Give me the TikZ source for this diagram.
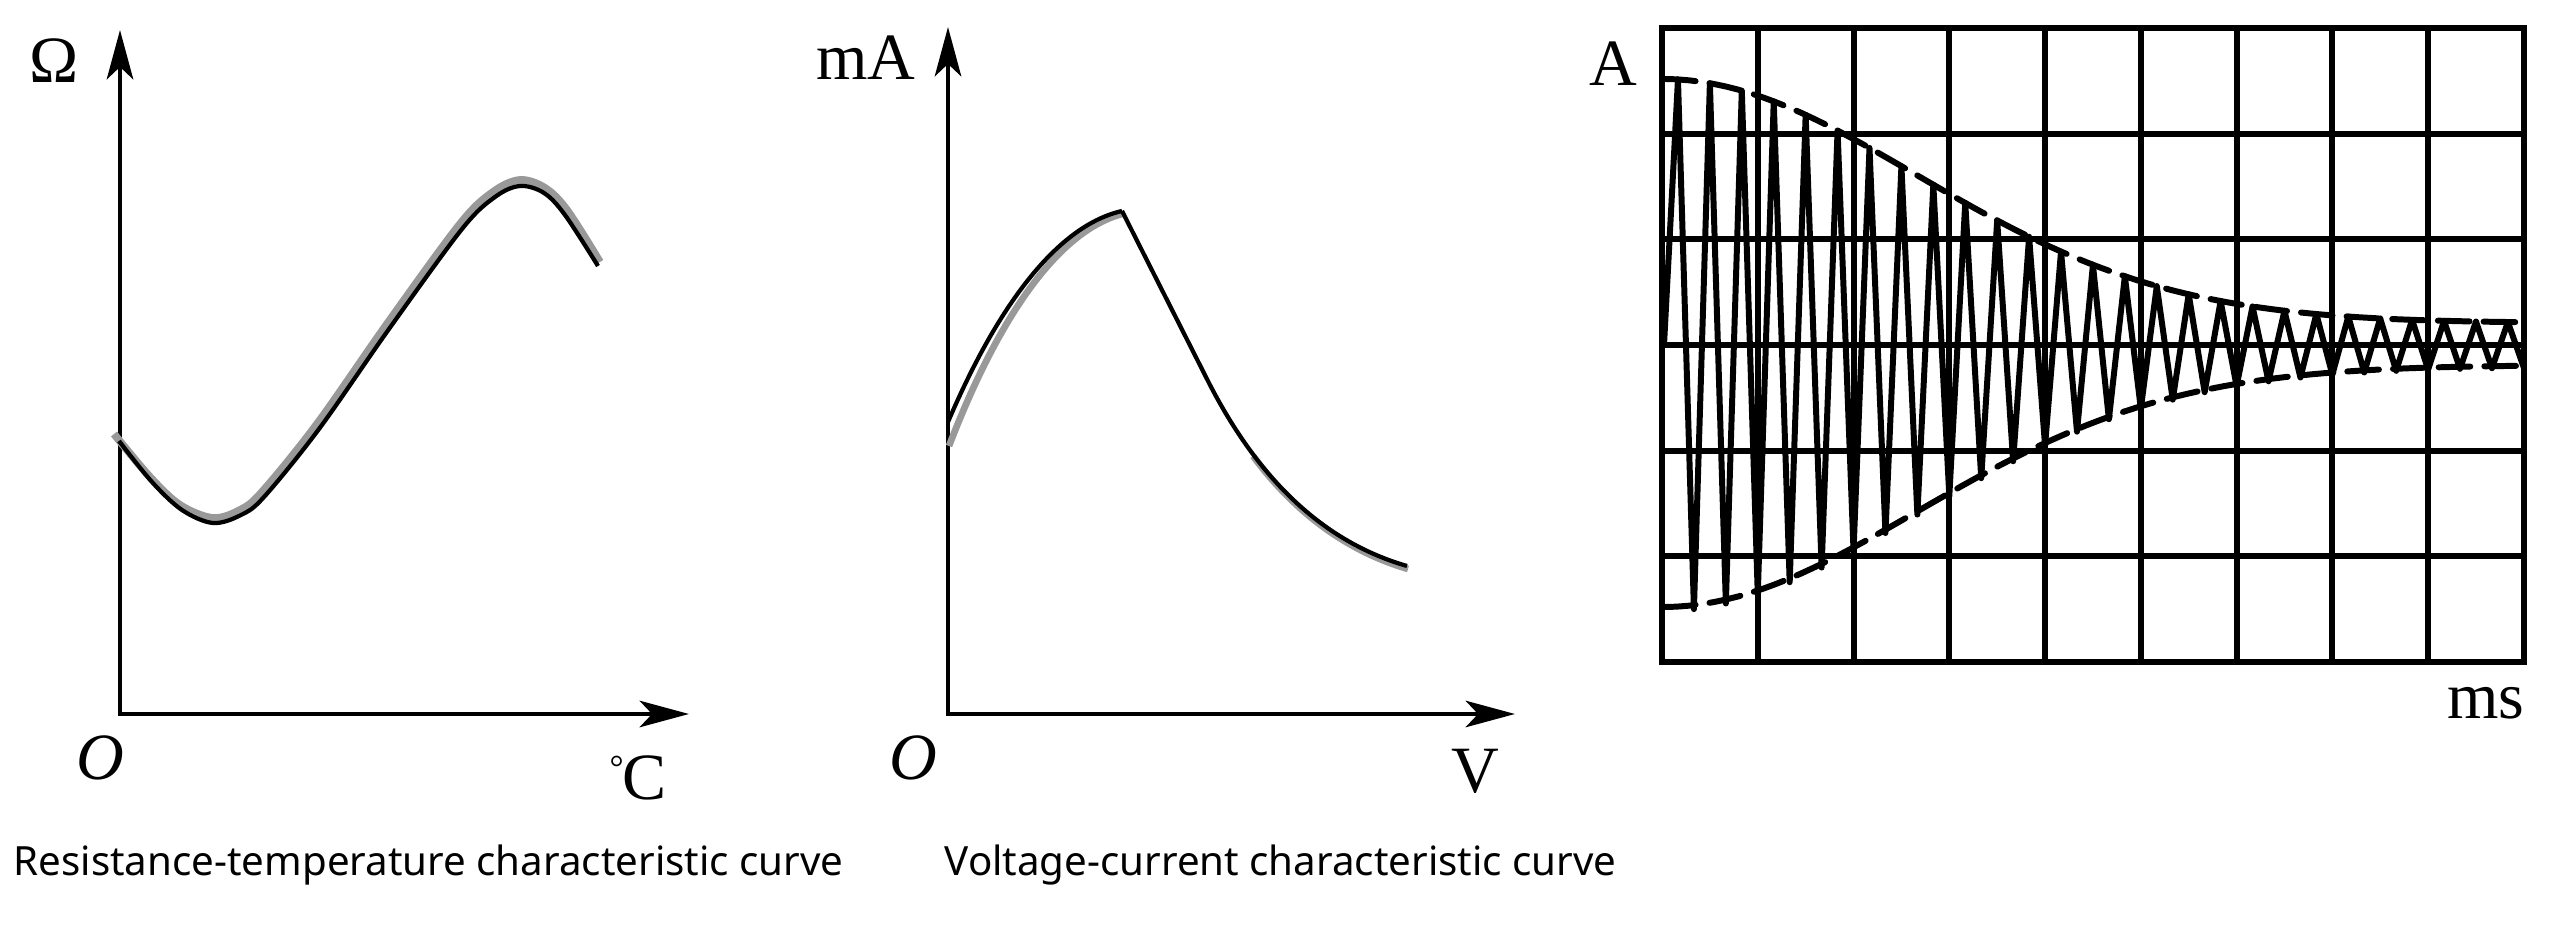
\documentclass[tikz,border=0pt]{standalone}
\usepackage{fontspec}
\setmainfont{Liberation Serif}
\newfontfamily\capfont{Noto Sans}
\usetikzlibrary{arrows.meta}

\tikzset{
	axisline/.style={draw=black,line width=1.4pt,line cap=rect},
	ribbon/.style={draw=black!40,line width=2.2pt},
	curveline/.style={draw=black,line width=1.2pt},
	gridline/.style={draw=black,line width=1.7pt},
	signal/.style={draw=black,line width=1.7pt,line join=round},
	envelope/.style={draw=black,line width=1.7pt,dash pattern=on 9pt off 4pt,line cap=round},
	caption/.style={font=\capfont\fontsize{11.45}{13}\selectfont,inner sep=0pt,anchor=base west}
}

\begin{document}
\begin{tikzpicture}[x=0.01cm,y=-0.01cm]
	\useasboundingbox (0,0) rectangle (2560,952);
	% axes end points
	\coordinate (O1) at (120,714);
	\coordinate (Y1) at (120,30);
	\coordinate (X1) at (689,714);
	\coordinate (O2) at (948,714);
	\coordinate (Y2) at (948,27);
	\coordinate (X2) at (1515,714);
	\begin{scope}[>={Stealth[length=14pt,width=7.5pt,inset=3.5pt]},
		every edge/.style={axisline}]
		\path [->] (O1) edge (Y1);
		\path [->] (O1) edge (X1);
		\path [->] (O2) edge (Y2);
		\path [->] (O2) edge (X2);
	\end{scope}
	% resistance-temperature curve
	\draw[ribbon] plot[smooth,tension=0.55] coordinates {(114,434) (150,477) (180,505) (213,518) (240,510) (262,492) (317,424) (387,324) (460,224) (493,192) (520,180) (545,188) (567,210) (600,262)};
	\draw[curveline] plot[smooth,tension=0.55] coordinates {(119,441) (152,482) (182,510) (213,523) (241,515) (264,497) (319,429) (389,329) (462,229) (495,197) (520,186) (544,193) (565,215) (598,266)};
	% voltage-current curve
	\coordinate (P2) at (1122,211);
	\draw[ribbon,line width=1.9pt] (949,446) .. controls (1002,308) and (1062,230) .. (1122,214);
	\draw[ribbon,line width=1.9pt] (1253,456) .. controls (1290,506) and (1340,549) .. (1408,569);
	\draw[curveline] (948,422) .. controls (1000,300) and (1060,225) .. (P2);
	\draw[curveline] (P2) -- (1210,385) .. controls (1250,462) and (1310,538) .. (1407,566);
	% oscilloscope grid
	\draw[gridline] (1662,28) rectangle (2524,662);
	\foreach \i in {1,...,8}
		\draw[gridline] ({1662+\i*95.78},28) -- ({1662+\i*95.78},662);
	\foreach \j in {1,...,5}
		\draw[gridline] (1662,{28+\j*105.67}) -- (2524,{28+\j*105.67});
	% envelope
	\draw[envelope] plot[domain=1664:2522,samples=70] (\x,{345-(22+244*exp(-(((\x-1662)/360)^2)))});
	\draw[envelope] plot[domain=1664:2522,samples=70] (\x,{345+(20+242*exp(-(((\x-1662)/360)^2)))});
	% damped oscillation
	\draw[signal] (1664,345) \foreach \i in {1,...,54} {
		-- ({1662+\i*15.96},{345-(2*mod(\i,2)-1)*(22+244*exp(-((\i*15.96/360)^2)))}) };
	\begin{scope}[every node/.style={inner sep=0pt,font=\fontsize{18.8}{20}\selectfont}]
		\node (ohm) at (54,61) {Ω};
		\node (orig1) at (100,758) {\itshape O};
		\node (degc) at (638,778) {\raisebox{0.3em}{\fontsize{10}{11}\selectfont\textdegree}\kern-0.02em C};
		\node (mamp) at (866,58) {mA};
		\node (orig2) at (913,758) {\itshape O};
		\node (volt) at (1475,771) {V};
		\node (amp) at (1613,64) {A};
		\node (msec) at (2486,703) {ms};
	\end{scope}
	\node[caption] (cap1) at (13,875) {Resistance-temperature characteristic curve};
	\node[caption] (cap2) at (944,875) {Voltage-current characteristic curve};
\end{tikzpicture}
\end{document}
